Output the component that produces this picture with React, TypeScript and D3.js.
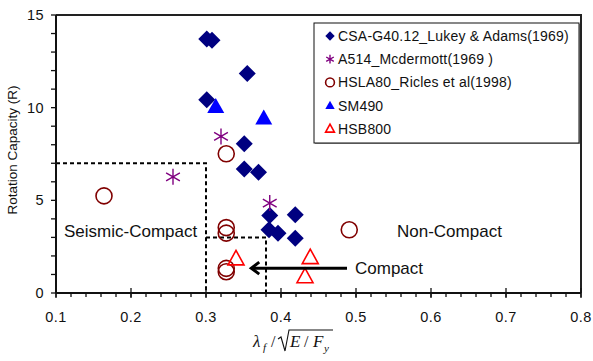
import React from "react";
import * as d3 from "d3";

const csaX = [0.301, 0.308, 0.355, 0.301, 0.351, 0.351, 0.370, 0.385, 0.419, 0.384, 0.396, 0.419];
const csaY = [13.71, 13.64, 11.84, 10.43, 8.05, 6.69, 6.52, 4.18, 4.22, 3.41, 3.23, 2.96];
const a514X = [0.256, 0.32, 0.385];
const a514Y = [6.27, 8.45, 4.85];
const hslaX = [0.164, 0.327, 0.327, 0.327, 0.327, 0.327, 0.491];
const hslaY = [5.24, 7.51, 3.53, 3.23, 1.33, 1.15, 3.41];
const sm490X = [0.313, 0.377];
const sm490Y = [10.04, 9.42];
const hsbX = [0.34, 0.439, 0.432];
const hsbY = [1.84, 1.91, 0.88];

const seismicBox: [number, number][] = [[0.1, 7], [0.3, 7], [0.3, 0]];
const compactBox: [number, number][] = [[0.3, 3], [0.38, 3], [0.38, 0]];
const arrowFrom: [number, number] = [0.488, 1.34];
const arrowTo: [number, number] = [0.359, 1.34];

const xTicks = [0.1, 0.2, 0.3, 0.4, 0.5, 0.6, 0.7, 0.8];
const yTicks = [0, 5, 10, 15];
const legendLabels = [
  "CSA-G40.12_Lukey & Adams(1969)",
  "A514_Mcdermott(1969 )",
  "HSLA80_Ricles et al(1998)",
  "SM490",
  "HSB800",
];

const FONT = "'Liberation Sans', Arial, sans-serif";
const SERIF = "'Liberation Serif', 'Times New Roman', serif";

const W = 593, H = 361;
const L = 56, R = 581, T = 15, B = 293;

function Marker({ kind, x, y, s = 1 }: { kind: string; x: number; y: number; s?: number }) {
  if (kind === "diamond") {
    const d = 8.5 * s;
    return <path d={`M${x},${y - d}L${x + d},${y}L${x},${y + d}L${x - d},${y}Z`} fill="#000080" />;
  }
  if (kind === "star") {
    const a = 8 * s, dx = 6.9 * s, dy = 4 * s;
    return (
      <path
        d={`M${x},${y - a}L${x},${y + a}M${x - dx},${y - dy}L${x + dx},${y + dy}M${x - dx},${y + dy}L${x + dx},${y - dy}`}
        stroke="#800080" strokeWidth={1.4} fill="none"
      />
    );
  }
  if (kind === "circle") {
    return <circle cx={x} cy={y} r={8 * s} fill="none" stroke="#800000" strokeWidth={1.6} />;
  }
  if (kind === "tri") {
    const w = 8.5 * s;
    return <path d={`M${x},${y - 9 * s}L${x + w},${y + 6 * s}L${x - w},${y + 6 * s}Z`} fill="#0000FF" />;
  }
  const w = 8 * s;
  return (
    <path d={`M${x},${y - 8.5 * s}L${x + w},${y + 6 * s}L${x - w},${y + 6 * s}Z`} fill="none" stroke="#FF0000" strokeWidth={1.6} />
  );
}

export default function App() {
  const x = d3.scaleLinear().domain([0.1, 0.8]).range([L, R]);
  const y = d3.scaleLinear().domain([0, 15]).range([B, T]);
  const line = d3.line<[number, number]>().x((d) => x(d[0])).y((d) => y(d[1]));

  const xMinor = d3.range(0, 36).map((i) => 0.1 + i * 0.02);
  const yMinor = d3.range(0, 16);

  const series = [
    { kind: "diamond", xs: csaX, ys: csaY },
    { kind: "star", xs: a514X, ys: a514Y },
    { kind: "circle", xs: hslaX, ys: hslaY },
    { kind: "tri", xs: sm490X, ys: sm490Y },
    { kind: "otri", xs: hsbX, ys: hsbY },
  ];
  const legendKinds = ["diamond", "star", "circle", "tri", "otri"];

  const ax1 = x(arrowFrom[0]), ay = y(arrowFrom[1]), ax2 = x(arrowTo[0]);

  return (
    <svg width={W} height={H} style={{ position: "absolute", left: 0, top: 0, background: "#fff" }}>
      <rect x={0} y={0} width={W} height={H} fill="#fff" />
      <path d={`M${L},${T}L${R},${T}L${R},${B}`} fill="none" stroke="#222" strokeWidth={2} />
      <path d={line(seismicBox) || ""} fill="none" stroke="#000" strokeWidth={2} strokeDasharray="4,3" />
      <path d={line(compactBox) || ""} fill="none" stroke="#000" strokeWidth={2} strokeDasharray="4,3" />
      <line x1={L} x2={R} y1={B} y2={B} stroke="#111" strokeWidth={2} />
      <line x1={L} x2={L} y1={T} y2={B} stroke="#111" strokeWidth={2} />
      {xMinor.map((v, i) => (
        <line key={"xm" + i} x1={x(v)} x2={x(v)} y1={B} y2={B + 4} stroke="#111" strokeWidth={1.3} />
      ))}
      {xTicks.map((v) => (
        <g key={"xt" + v}>
          <line x1={x(v)} x2={x(v)} y1={B - 5} y2={B + 5} stroke="#111" strokeWidth={1.3} />
          <text x={x(v)} y={B + 29} textAnchor="middle" fontFamily={FONT} fontSize={14.5} letterSpacing={0.4} fill="#111">
            {v.toFixed(1)}
          </text>
        </g>
      ))}
      {yMinor.map((v) => (
        <line key={"ym" + v} x1={L - 5} x2={L} y1={y(v)} y2={y(v)} stroke="#111" strokeWidth={1.3} />
      ))}
      {yTicks.map((v) => (
        <text key={"yt" + v} x={L - 12} y={y(v) + 5} textAnchor="end" fontFamily={FONT} fontSize={14.5} letterSpacing={0.4} fill="#111">
          {v}
        </text>
      ))}
      <text transform={`translate(17,150) rotate(-90)`} textAnchor="middle" fontFamily={FONT} fontSize={13.5} fill="#111">
        Rotation Capacity (R)
      </text>
      <g fontFamily={SERIF} fontStyle="italic" fill="#111">
        <text x={253} y={347} fontSize={17}>λ</text>
        <text x={263} y={351} fontSize={11}>f</text>
        <text x={271} y={347} fontSize={16} fontStyle="normal">/</text>
        <path d="M278,339 L281,337 L285,351 L289,330 L333,330" fill="none" stroke="#111" strokeWidth={1.1} />
        <text x={290} y={347} fontSize={17}>E</text>
        <text x={304} y={347} fontSize={16} fontStyle="normal">/</text>
        <text x={313} y={347} fontSize={17}>F</text>
        <text x={324} y={352} fontSize={11}>y</text>
      </g>
      {series.map((s) =>
        s.xs.map((v, i) => <Marker key={s.kind + i} kind={s.kind} x={x(v)} y={y(s.ys[i])} />)
      )}
      <line x1={ax1} x2={ax2 + 2} y1={ay} y2={ay} stroke="#000" strokeWidth={3} />
      <path d={`M${ax2 + 9},${ay - 6}L${ax2 + 1},${ay}L${ax2 + 9},${ay + 6}`} fill="none" stroke="#000" strokeWidth={3} />
      <text x={64} y={237} fontFamily={FONT} fontSize={17} fill="#111">Seismic-Compact</text>
      <text x={397} y={237} fontFamily={FONT} fontSize={17} fill="#111">Non-Compact</text>
      <text x={355} y={274} fontFamily={FONT} fontSize={17} fill="#111">Compact</text>
      <rect x={315} y={24} width={265} height={120} fill="#999" />
      <rect x={314} y={23} width={265} height={120} fill="#fff" stroke="#111" strokeWidth={1} />
      {legendLabels.map((lab, i) => {
        const cy = 36 + i * 23.2;
        return (
          <g key={lab}>
            <Marker kind={legendKinds[i]} x={330} y={cy} s={0.55} />
            <text x={338} y={cy + 5} fontFamily={FONT} fontSize={14} letterSpacing={0.2} fill="#111">{lab}</text>
          </g>
        );
      })}
    </svg>
  );
}
